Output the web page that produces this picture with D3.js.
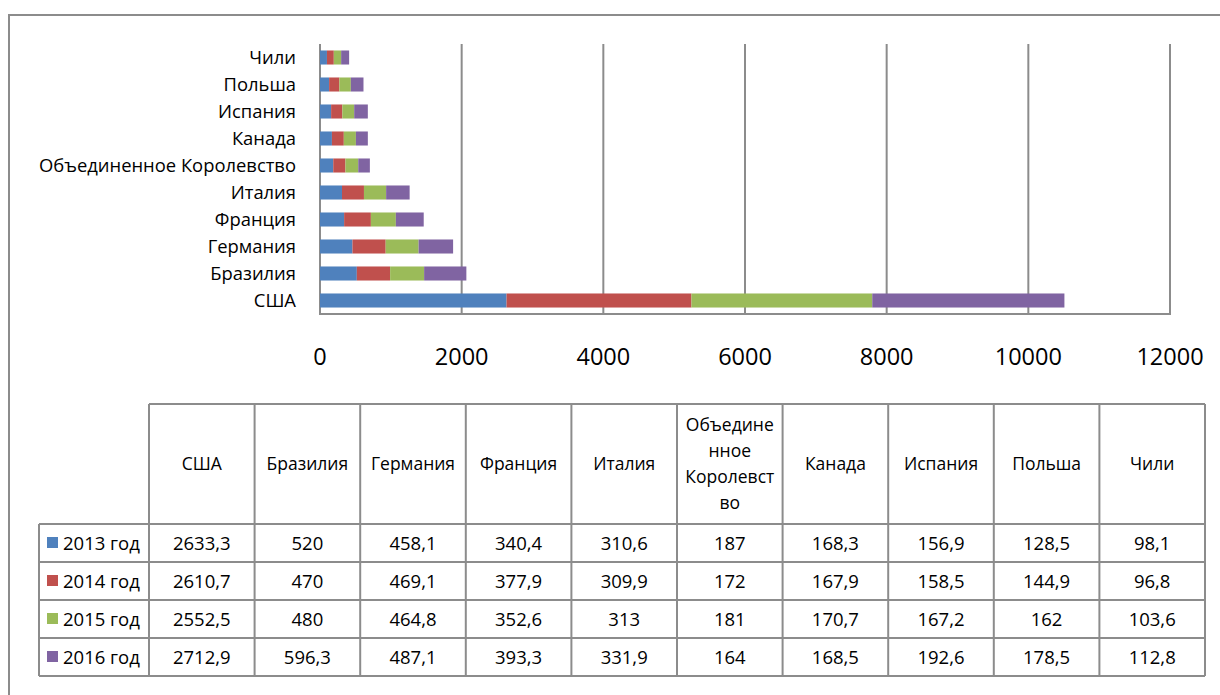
<!DOCTYPE html>
<html>
<head>
  <meta charset="utf-8" />
  <title>Stacked bars with data table</title>
  <script src="https://cdnjs.cloudflare.com/ajax/libs/d3/7.8.5/d3.min.js"></script>
  <style>
    body { margin: 0; background: #fff; }
    text { font-family: "Open Sans", "Noto Sans", sans-serif; fill: #000; }
  </style>
</head>
<body>
<div id="chart"></div>
<script>
  // data
  var countries = ["США", "Бразилия", "Германия", "Франция", "Италия",
                   "Объединенное Королевство", "Канада", "Испания", "Польша", "Чили"];
  var years = ["2013 год", "2014 год", "2015 год", "2016 год"];
  var v2013 = [2633.3, 520, 458.1, 340.4, 310.6, 187, 168.3, 156.9, 128.5, 98.1];
  var v2014 = [2610.7, 470, 469.1, 377.9, 309.9, 172, 167.9, 158.5, 144.9, 96.8];
  var v2015 = [2552.5, 480, 464.8, 352.6, 313, 181, 170.7, 167.2, 162, 103.6];
  var v2016 = [2712.9, 596.3, 487.1, 393.3, 331.9, 164, 168.5, 192.6, 178.5, 112.8];
  var xTicks = [0, 2000, 4000, 6000, 8000, 10000, 12000];
  var colors = ["#4f81bd", "#c0504d", "#9bbb59", "#8064a2"];

  var series = [v2013, v2014, v2015, v2016];
  var rows = countries.map(function(c, i) {
    var r = { country: c };
    years.forEach(function(y, k) { r[y] = series[k][i]; });
    return r;
  });

  var width = 1220, height = 695;
  var svg = d3.select("#chart").append("svg")
      .attr("width", width).attr("height", height);

  // outer frame (runs off the page right and bottom)
  svg.append("path")
      .attr("d", "M9," + (height + 5) + "V15H" + (width + 5))
      .attr("fill", "none").attr("stroke", "#8c8c8c").attr("stroke-width", 2);

  var plot = { left: 320, right: 1170, top: 44, bottom: 314 };

  var x = d3.scaleLinear().domain([0, 12000]).range([plot.left, plot.right]);
  var y = d3.scaleBand()
      .domain(countries.slice().reverse())
      .range([plot.top, plot.bottom])
      .paddingInner(0.48).paddingOuter(0.24);

  // gridlines
  svg.append("g").selectAll("line")
      .data(xTicks)
      .enter().append("line")
      .attr("x1", function(d) { return x(d); })
      .attr("x2", function(d) { return x(d); })
      .attr("y1", plot.top).attr("y2", plot.bottom)
      .attr("stroke", "#8c8c8c").attr("stroke-width", 2);

  svg.append("line")
      .attr("x1", plot.left - 1).attr("x2", plot.right + 1)
      .attr("y1", plot.bottom).attr("y2", plot.bottom)
      .attr("stroke", "#8c8c8c").attr("stroke-width", 2);

  // stacked bars
  var stack = d3.stack().keys(years);
  var layers = stack(rows);

  svg.append("g").selectAll("g")
      .data(layers)
      .enter().append("g")
      .attr("fill", function(d, i) { return colors[i]; })
      .selectAll("rect")
      .data(function(d) { return d; })
      .enter().append("rect")
      .attr("x", function(d) { return x(d[0]); })
      .attr("width", function(d) { return x(d[1]) - x(d[0]); })
      .attr("y", function(d) { return y(d.data.country); })
      .attr("height", y.bandwidth());

  // category labels
  svg.append("g").selectAll("text")
      .data(countries)
      .enter().append("text")
      .attr("x", 296)
      .attr("y", function(d) { return y(d) + y.bandwidth() / 2; })
      .attr("dy", "0.36em")
      .attr("text-anchor", "end")
      .style("font-size", "18.4px")
      .text(function(d) { return d; });

  // x tick labels
  svg.append("g").selectAll("text")
      .data(xTicks)
      .enter().append("text")
      .attr("x", function(d) { return x(d); })
      .attr("y", 357)
      .attr("dy", "0.36em")
      .attr("text-anchor", "middle")
      .style("font-size", "23.5px")
      .text(function(d) { return d; });

  // data table
  var tab = { left: 39, labelRight: 149, right: 1205, top: 404, headBottom: 524, rowH: 38 };
  var colW = (tab.right - tab.labelRight) / countries.length;
  var lineColor = "#8c8c8c";
  var fmt = function(v) { return String(v).replace(".", ","); };

  var t = svg.append("g");
  // horizontal lines
  t.append("line").attr("x1", tab.labelRight).attr("x2", tab.right)
      .attr("y1", tab.top).attr("y2", tab.top);
  d3.range(years.length + 1).forEach(function(k) {
    var yy = tab.headBottom + k * tab.rowH;
    t.append("line").attr("x1", tab.left).attr("x2", tab.right)
        .attr("y1", yy).attr("y2", yy);
  });
  // vertical lines
  t.append("line").attr("x1", tab.left).attr("x2", tab.left)
      .attr("y1", tab.headBottom).attr("y2", tab.headBottom + years.length * tab.rowH);
  d3.range(countries.length + 1).forEach(function(i) {
    var xx = tab.labelRight + i * colW;
    t.append("line").attr("x1", xx).attr("x2", xx)
        .attr("y1", tab.top).attr("y2", tab.headBottom + years.length * tab.rowH);
  });
  t.selectAll("line").attr("stroke", lineColor).attr("stroke-width", 2);

  // header cells
  var headLines = countries.map(function(c) {
    return c === "Объединенное Королевство" ? ["Объедине", "нное", "Королевст", "во"] : [c];
  });
  headLines.forEach(function(lines, i) {
    var cx = tab.labelRight + (i + 0.5) * colW;
    var cy = (tab.top + tab.headBottom) / 2;
    var lh = 26;
    lines.forEach(function(s, j) {
      t.append("text")
          .attr("x", cx)
          .attr("y", cy + (j - (lines.length - 1) / 2) * lh)
          .attr("dy", "0.36em")
          .attr("text-anchor", "middle")
          .style("font-size", "17.5px")
          .text(s);
    });
  });

  // rows
  years.forEach(function(yr, k) {
    var cy = tab.headBottom + (k + 0.5) * tab.rowH;
    t.append("rect")
        .attr("x", 47).attr("y", cy - 6)
        .attr("width", 11).attr("height", 11)
        .attr("fill", colors[k]);
    t.append("text")
        .attr("x", 63).attr("y", cy)
        .attr("dy", "0.36em")
        .style("font-size", "18.5px")
        .text(yr);
    series[k].forEach(function(v, i) {
      t.append("text")
          .attr("x", tab.labelRight + (i + 0.5) * colW)
          .attr("y", cy)
          .attr("dy", "0.36em")
          .attr("text-anchor", "middle")
          .style("font-size", "18.5px")
          .text(fmt(v));
    });
  });
</script>
</body>
</html>
